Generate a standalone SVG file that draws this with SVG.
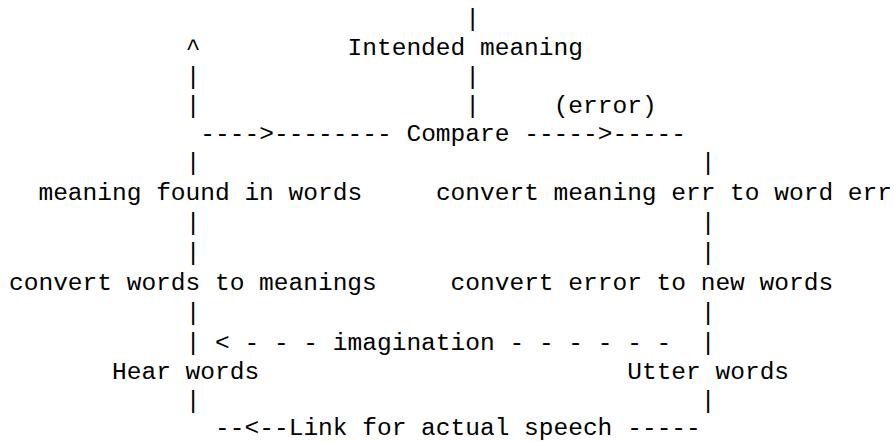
<svg xmlns="http://www.w3.org/2000/svg" width="894" height="442" viewBox="0 0 894 442" xml:space="preserve">
<style>
text { font-family: "Liberation Mono", "Courier New", monospace; font-size: 24.53px; fill: #000; white-space: pre; }
</style>
<rect width="894" height="442" fill="#fff"/>
<g id="connectors">
  <text x="465.32" y="26">|</text>
  <text x="185.64" y="55">^</text>
  <text x="185.64" y="84">|</text>
  <text x="465.32" y="84">|</text>
  <text x="185.64" y="113">|</text>
  <text x="465.32" y="113">|</text>
  <text x="200.36" y="141">----&gt;--------</text>
  <text x="524.2" y="141">-----&gt;-----</text>
  <text x="185.64" y="170">|</text>
  <text x="700.84" y="170">|</text>
  <text x="185.64" y="230">|</text>
  <text x="700.84" y="230">|</text>
  <text x="185.64" y="260">|</text>
  <text x="700.84" y="260">|</text>
  <text x="185.64" y="320">|</text>
  <text x="700.84" y="320">|</text>
  <text x="185.64" y="350">|</text>
  <text x="215.08" y="350">&lt; - - -</text>
  <text x="509.48" y="350">- - - - - -</text>
  <text x="700.84" y="350">|</text>
  <text x="185.64" y="408">|</text>
  <text x="700.84" y="408">|</text>
  <text x="215.08" y="435">--&lt;--</text>
  <text x="627.24" y="435">-----</text>
</g>
<g id="intended"><text x="347.56" y="55">Intended meaning</text></g>
<g id="error"><text x="553.64" y="113">(error)</text></g>
<g id="compare"><text x="406.44" y="141">Compare</text></g>
<g id="meaning-found"><text x="38.44" y="200">meaning found in words</text></g>
<g id="convert-meaning-err"><text x="435.88" y="200">convert meaning err to word err</text></g>
<g id="convert-words"><text x="9" y="290">convert words to meanings</text></g>
<g id="convert-error"><text x="450.6" y="290">convert error to new words</text></g>
<g id="imagination"><text x="332.84" y="350">imagination</text></g>
<g id="hear"><text x="112.04" y="379">Hear words</text></g>
<g id="utter"><text x="627.24" y="379">Utter words</text></g>
<g id="link"><text x="288.68" y="435">Link for actual speech</text></g>
</svg>
